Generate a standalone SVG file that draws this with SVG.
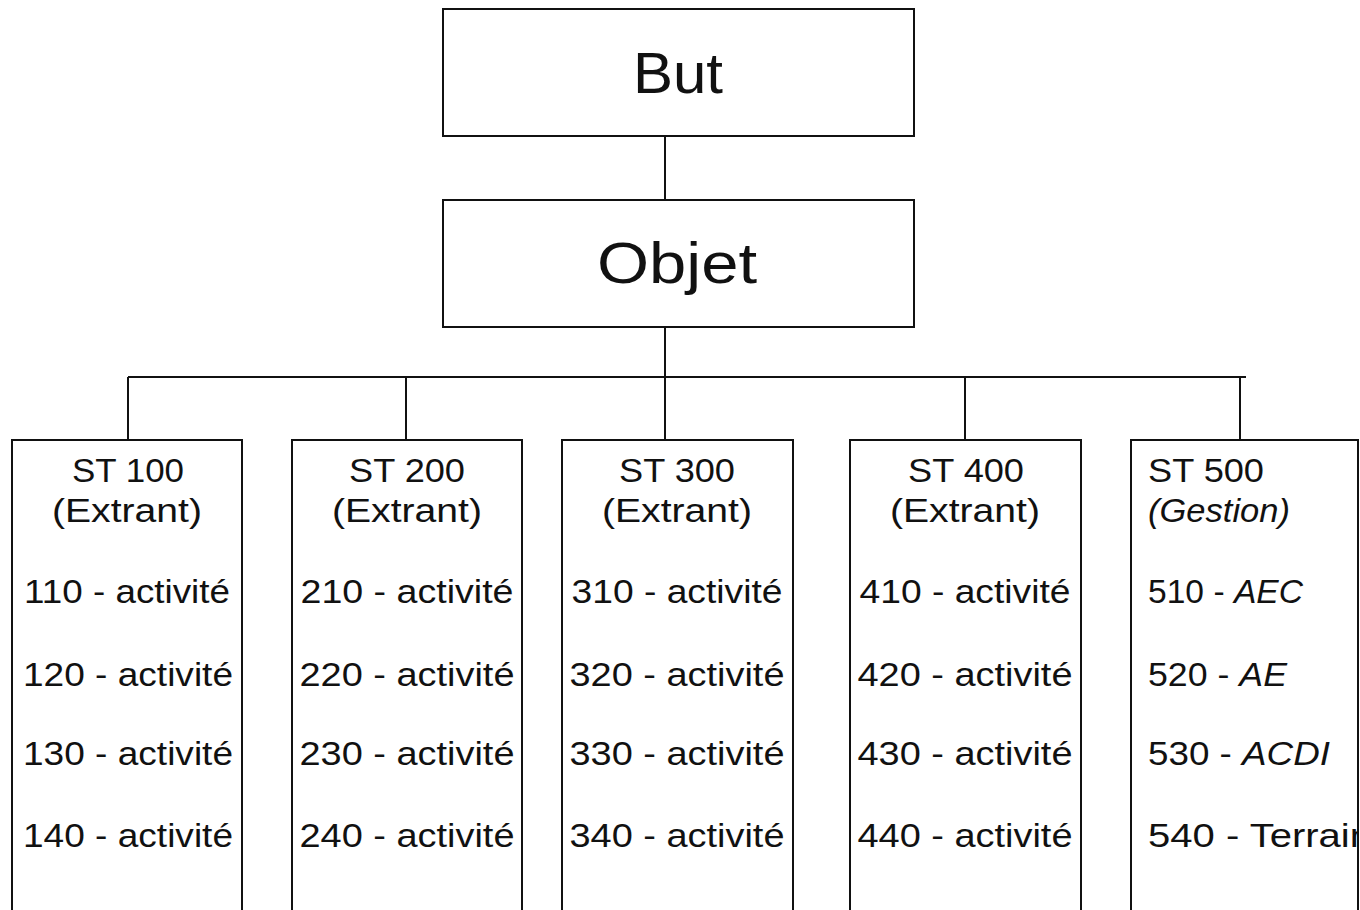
<svg xmlns="http://www.w3.org/2000/svg" width="1360" height="910" viewBox="0 0 1360 910">
<style>
.box{fill:#fff;stroke:#111;stroke-width:2}
.ln{stroke:#111;stroke-width:2;fill:none}
text{font-family:"Liberation Sans","DejaVu Sans",sans-serif;fill:#111}
.big{font-size:58px;text-anchor:middle}
.t{font-size:33px;text-anchor:middle}
.l{font-size:33px}
.it{font-style:italic}
</style>
<defs>
<clipPath id="c5"><rect x="1131" y="440" width="227" height="480"/></clipPath>
</defs>
<g id="connectors">
<line class="ln" x1="665" y1="136" x2="665" y2="200"/>
<line class="ln" x1="665" y1="327" x2="665" y2="440"/>
<line class="ln" x1="128" y1="377" x2="1246" y2="377"/>
<line class="ln" x1="128" y1="377" x2="128" y2="440"/>
<line class="ln" x1="406" y1="377" x2="406" y2="440"/>
<line class="ln" x1="965" y1="377" x2="965" y2="440"/>
<line class="ln" x1="1240" y1="377" x2="1240" y2="440"/>
</g>
<g id="but">
<rect class="box" x="443" y="9" width="471" height="127"/>
<text class="big" x="678" y="93" textLength="90" lengthAdjust="spacingAndGlyphs">But</text>
</g>
<g id="objet">
<rect class="box" x="443" y="200" width="471" height="127"/>
<text class="big" x="677" y="283" textLength="160" lengthAdjust="spacingAndGlyphs">Objet</text>
</g>
<g id="st100">
<rect class="box" x="12" y="440" width="230" height="490"/>
<text class="t" x="128" y="482" textLength="112" lengthAdjust="spacingAndGlyphs">ST 100</text>
<text class="t" x="127" y="522" textLength="150" lengthAdjust="spacingAndGlyphs">(Extrant)</text>
<text class="t" x="127" y="603" textLength="206" lengthAdjust="spacingAndGlyphs">110 - activité</text>
<text class="t" x="128" y="686" textLength="210" lengthAdjust="spacingAndGlyphs">120 - activité</text>
<text class="t" x="128" y="765" textLength="210" lengthAdjust="spacingAndGlyphs">130 - activité</text>
<text class="t" x="128" y="847" textLength="210" lengthAdjust="spacingAndGlyphs">140 - activité</text>
</g>
<g id="st200">
<rect class="box" x="292" y="440" width="230" height="490"/>
<text class="t" x="407" y="482" textLength="116" lengthAdjust="spacingAndGlyphs">ST 200</text>
<text class="t" x="407" y="522" textLength="150" lengthAdjust="spacingAndGlyphs">(Extrant)</text>
<text class="t" x="407" y="603" textLength="213" lengthAdjust="spacingAndGlyphs">210 - activité</text>
<text class="t" x="407" y="686" textLength="215" lengthAdjust="spacingAndGlyphs">220 - activité</text>
<text class="t" x="407" y="765" textLength="215" lengthAdjust="spacingAndGlyphs">230 - activité</text>
<text class="t" x="407" y="847" textLength="215" lengthAdjust="spacingAndGlyphs">240 - activité</text>
</g>
<g id="st300">
<rect class="box" x="562" y="440" width="231" height="490"/>
<text class="t" x="677" y="482" textLength="116" lengthAdjust="spacingAndGlyphs">ST 300</text>
<text class="t" x="677" y="522" textLength="150" lengthAdjust="spacingAndGlyphs">(Extrant)</text>
<text class="t" x="677" y="603" textLength="211" lengthAdjust="spacingAndGlyphs">310 - activité</text>
<text class="t" x="677" y="686" textLength="215" lengthAdjust="spacingAndGlyphs">320 - activité</text>
<text class="t" x="677" y="765" textLength="215" lengthAdjust="spacingAndGlyphs">330 - activité</text>
<text class="t" x="677" y="847" textLength="215" lengthAdjust="spacingAndGlyphs">340 - activité</text>
</g>
<g id="st400">
<rect class="box" x="850" y="440" width="231" height="490"/>
<text class="t" x="966" y="482" textLength="116" lengthAdjust="spacingAndGlyphs">ST 400</text>
<text class="t" x="965" y="522" textLength="150" lengthAdjust="spacingAndGlyphs">(Extrant)</text>
<text class="t" x="965" y="603" textLength="211" lengthAdjust="spacingAndGlyphs">410 - activité</text>
<text class="t" x="965" y="686" textLength="215" lengthAdjust="spacingAndGlyphs">420 - activité</text>
<text class="t" x="965" y="765" textLength="215" lengthAdjust="spacingAndGlyphs">430 - activité</text>
<text class="t" x="965" y="847" textLength="215" lengthAdjust="spacingAndGlyphs">440 - activité</text>
</g>
<g id="st500">
<rect class="box" x="1131" y="440" width="227" height="490"/>
<g clip-path="url(#c5)">
<text class="l" x="1148" y="482" textLength="116" lengthAdjust="spacingAndGlyphs">ST 500</text>
<text class="l it" x="1148" y="522" textLength="142" lengthAdjust="spacingAndGlyphs">(Gestion)</text>
<text class="l" x="1148" y="603" textLength="155" lengthAdjust="spacingAndGlyphs">510 - <tspan class="it">AEC</tspan></text>
<text class="l" x="1148" y="686" textLength="139" lengthAdjust="spacingAndGlyphs">520 - <tspan class="it">AE</tspan></text>
<text class="l" x="1148" y="765" textLength="182" lengthAdjust="spacingAndGlyphs">530 - <tspan class="it">ACDI</tspan></text>
<text class="l" x="1148" y="847" textLength="224" lengthAdjust="spacingAndGlyphs">540 - Terrain</text>
</g>
</g>
</svg>
